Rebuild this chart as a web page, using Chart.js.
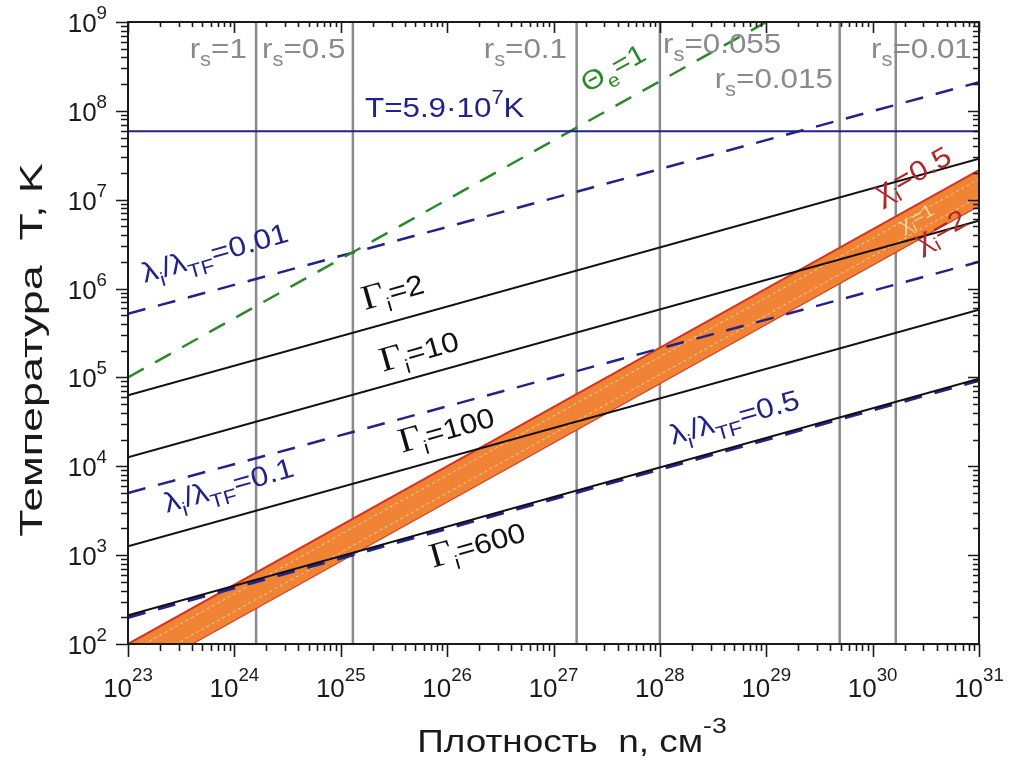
<!DOCTYPE html>
<html lang="ru">
<head>
<meta charset="utf-8">
<title>Температура – плотность</title>
<script src="https://cdn.jsdelivr.net/npm/chart.js@4.4.1/dist/chart.umd.min.js"></script>
<style>
    html, body { margin: 0; padding: 0; background: #fff; }
    #plasmaChart { display: block; }
</style>
</head>
<body>
<canvas id="plasmaChart" width="1012" height="767"></canvas>
<script>
/**
 * Data (log-log, n in cm^-3, T in K)
 */
const densityEnds = [1e23, 1e31];
const xTickPowers = [23, 24, 25, 26, 27, 28, 29, 30, 31];
const yTickPowers = [2, 3, 4, 5, 6, 7, 8, 9];

const rsValues = ['1', '0.5', '0.1', '0.055', '0.015', '0.01'];
const rsDensity = [1.6e24, 1.3e25, 1.65e27, 1e28, 4.9e29, 1.65e30];

const tempLine = 5.9e7;

const gammaValues = ['2', '10', '100', '600'];
const gammaTempStart = [6.3e4, 1.26e4, 1.26e3, 2.1e2];
const gammaTempEnd = [2.9e7, 5.8e6, 5.8e5, 9.7e4];

const lambdaValues = ['0.01', '0.1', '0.5'];
const lambdaTempStart = [5.2e5, 5e3, 2e2];
const lambdaTempEnd = [2.1e8, 2e6, 9.3e4];

const thetaDensity = [1e23, 1e29];
const thetaTemp = [1e5, 1e9];

const chiValues = ['0.5', '1', '2'];
const chiTempStart = [100, 63, 40];
const chiTempEnd = [2.15e7, 1.36e7, 8.6e6];
const chiMidStart = [79, 50];
const chiMidEnd = [1.71e7, 1.08e7];

/**
 * Styles
 */
const SANS = '"Liberation Sans", Arial, sans-serif';
const SERIF = '"Liberation Serif", "Times New Roman", serif';
const NAVY = '#22228a';
const GRAY = '#8a8a8a';
const GREEN = '#2a8a2a';
const CHI_RED = '#b3262a';
const BAND = 'rgb(241, 131, 52)';

/**
 * Text placed on the plot (position in data coordinates)
 */
const annotations = [
    { n: 1.31e24, T: 3.94e8, align: 'right', size: 28, color: GRAY, parts: rsParts(rsValues[0]) },
    { n: 1.82e24, T: 3.94e8, align: 'left', size: 28, color: GRAY, parts: rsParts(rsValues[1]) },
    { n: 1.34e27, T: 3.94e8, align: 'right', size: 28, color: GRAY, parts: rsParts(rsValues[2]) },
    { n: 1.07e28, T: 4.48e8, align: 'left', size: 28, color: GRAY, parts: rsParts(rsValues[3]) },
    { n: 4.23e29, T: 1.81e8, align: 'right', size: 28, color: GRAY, parts: rsParts(rsValues[4]) },
    { n: 8.55e30, T: 3.94e8, align: 'right', size: 28, color: GRAY, parts: rsParts(rsValues[5]) },
    { n: 1.69e25, T: 8.53e7, size: 28, color: NAVY,
      parts: [{ t: 'T=5.9·10' }, { t: '7', sup: true }, { t: 'K' }] },
    { n: 2.06e27, T: 1.59e8, size: 27, color: GREEN, angle: -29,
      parts: [{ t: 'Θ' }, { t: 'e', sub: true }, { t: '=1' }] },
    { n: 1.69e25, T: 5.75e5, size: 28, color: '#111', angle: -16, parts: gammaParts(gammaValues[0]) },
    { n: 2.5e25, T: 1.16e5, size: 28, color: '#111', angle: -16, parts: gammaParts(gammaValues[1]) },
    { n: 3.76e25, T: 1.42e4, size: 28, color: '#111', angle: -16, parts: gammaParts(gammaValues[2]) },
    { n: 7.36e25, T: 721, size: 28, color: '#111', angle: -16, parts: gammaParts(gammaValues[3]) },
    { n: 1.44e23, T: 1.16e6, size: 28, color: NAVY, angle: -16, parts: lambdaParts(lambdaValues[0]) },
    { n: 2.33e23, T: 3.0e3, size: 28, color: NAVY, angle: -16, parts: lambdaParts(lambdaValues[1]) },
    { n: 1.32e28, T: 1.75e4, size: 28, color: NAVY, angle: -16, parts: lambdaParts(lambdaValues[2]) },
    { n: 1.17e30, T: 9.2e6, size: 28, color: CHI_RED, angle: -29, parts: chiParts(chiValues[0]) },
    { n: 1.92e30, T: 4.35e6, size: 18, color: '#f3d9a8', angle: -29, parts: chiParts(chiValues[1]) },
    { n: 2.78e30, T: 2.59e6, size: 27, color: CHI_RED, angle: -29, parts: chiParts(chiValues[2]) }
];

function rsParts(v) {
    return [{ t: 'r' }, { t: 's', sub: true }, { t: '=' + v }];
}

function gammaParts(v) {
    return [{ t: 'Γ', serif: true, scale: 1.25 }, { t: 'i', sub: true }, { t: '=' + v }];
}

function lambdaParts(v) {
    return [{ t: 'λ' }, { t: 'i', sub: true }, { t: '/λ' }, { t: 'TF', sub: true }, { t: '=' + v }];
}

function chiParts(v) {
    return [{ t: 'χ', serif: true, scale: 1.25 }, { t: 'i', sub: true }, { t: '=' + v }];
}

/**
 * Draw a run of text with sub/superscripts, optionally rotated
 */
function drawRichText(ctx, x, y, parts, opts) {
    const size = opts.size;
    ctx.save();
    ctx.translate(x, y);
    ctx.rotate((opts.angle || 0) * Math.PI / 180);
    ctx.scale(opts.hscale || 1, 1);
    ctx.fillStyle = opts.color;
    ctx.textBaseline = opts.baseline || 'alphabetic';
    ctx.textAlign = 'left';

    const runs = parts.map(p => {
        const s = (p.sub || p.sup) ? size * (opts.smallScale || 0.7) : size * (p.scale || 1);
        const font = s + 'px ' + (p.serif ? SERIF : SANS);
        ctx.font = font;
        let dy = 0;
        if (p.sub) dy = size * 0.3;
        if (p.sup) dy = -size * (opts.supShift || 0.45);
        return { text: p.t, font: font, w: ctx.measureText(p.t).width, dy: dy };
    });
    const total = runs.reduce((a, r) => a + r.w, 0);
    let cx = 0;
    if (opts.align === 'right') cx = -total;
    if (opts.align === 'center') cx = -total / 2;

    runs.forEach(r => {
        ctx.font = r.font;
        ctx.fillText(r.text, cx, r.dy);
        cx += r.w;
    });
    ctx.restore();
}

/**
 * Helpers for two-point lines across the density range
 */
function lineData(start, end) {
    return [{ x: densityEnds[0], y: start }, { x: densityEnds[1], y: end }];
}

function buildDatasets() {
    const sets = [];

    // r_s = const verticals
    rsDensity.forEach((n, i) => {
        sets.push({
            label: 'rs=' + rsValues[i],
            data: [{ x: n, y: 1e2 }, { x: n, y: 1e9 }],
            borderColor: GRAY,
            borderWidth: 2.5,
            order: 9
        });
    });

    // chi band: upper edge fills down to lower edge
    const upperIndex = sets.length;
    const lowerIndex = upperIndex + 2;
    chiValues.forEach((v, i) => {
        const ds = {
            label: 'chi=' + v,
            data: lineData(chiTempStart[i], chiTempEnd[i]),
            borderColor: i === 1 ? '#8e1c14' : 'rgb(214, 52, 32)',
            borderWidth: i === 1 ? 1.3 : 2,
            order: 8,
            clip: 0
        };
        if (i === 0) {
            ds.fill = { target: lowerIndex, above: BAND, below: BAND };
        }
        sets.push(ds);
    });

    // light dotted lines inside the band
    chiMidStart.forEach((v, i) => {
        sets.push({
            label: 'chi mid ' + i,
            data: lineData(chiMidStart[i], chiMidEnd[i]),
            borderColor: 'rgba(255, 226, 190, 0.85)',
            borderWidth: 1,
            borderDash: [3, 3],
            order: 7,
            clip: 0
        });
    });

    // lambda_i / lambda_TF dashed lines
    lambdaValues.forEach((v, i) => {
        sets.push({
            label: 'lambda=' + v,
            data: lineData(lambdaTempStart[i], lambdaTempEnd[i]),
            borderColor: NAVY,
            borderWidth: i === 2 ? 3.5 : 2.5,
            borderDash: [18, 13],
            order: 6
        });
    });

    // Gamma_i lines
    gammaValues.forEach((v, i) => {
        sets.push({
            label: 'Gamma=' + v,
            data: lineData(gammaTempStart[i], gammaTempEnd[i]),
            borderColor: '#111',
            borderWidth: 2,
            order: 5
        });
    });

    // Theta_e = 1
    sets.push({
        label: 'Theta=1',
        data: [{ x: thetaDensity[0], y: thetaTemp[0] }, { x: thetaDensity[1], y: thetaTemp[1] }],
        borderColor: GREEN,
        borderWidth: 2.5,
        borderDash: [18, 13],
        order: 4
    });

    // T = 5.9e7 K
    sets.push({
        label: 'T line',
        data: lineData(tempLine, tempLine),
        borderColor: NAVY,
        borderWidth: 2,
        order: 3
    });

    return sets;
}

/**
 * Frame, ticks, tick labels, axis titles and annotations
 */
const decorPlugin = {
    id: 'decor',
    afterDraw(chart) {
        const ctx = chart.ctx;
        const area = chart.chartArea;
        const xs = chart.scales.x;
        const ys = chart.scales.y;

        ctx.save();
        ctx.strokeStyle = '#1a1a1a';
        ctx.lineWidth = 1.6;

        // x ticks (outward at bottom, inward at top)
        xTickPowers.forEach((p, k) => {
            for (let m = 1; m <= 9; m++) {
                if (m > 1 && k === xTickPowers.length - 1) break;
                const px = Math.round(xs.getPixelForValue(m * Math.pow(10, p))) + 0.5;
                const len = m === 1 ? 13 : 7;
                ctx.beginPath();
                ctx.moveTo(px, area.bottom);
                ctx.lineTo(px, area.bottom + len);
                ctx.moveTo(px, area.top);
                ctx.lineTo(px, area.top + len - 2);
                ctx.stroke();
            }
        });

        // y ticks (outward at left, inward at right)
        yTickPowers.forEach((p, k) => {
            for (let m = 1; m <= 9; m++) {
                if (m > 1 && k === yTickPowers.length - 1) break;
                const py = Math.round(ys.getPixelForValue(m * Math.pow(10, p))) + 0.5;
                const len = m === 1 ? 12 : 7;
                ctx.beginPath();
                ctx.moveTo(area.left, py);
                ctx.lineTo(area.left - len, py);
                ctx.moveTo(area.right, py);
                ctx.lineTo(area.right - len + 1, py);
                ctx.stroke();
            }
        });

        // frame
        ctx.lineWidth = 2;
        ctx.strokeRect(area.left, area.top, area.right - area.left, area.bottom - area.top);
        ctx.restore();

        // tick labels
        xTickPowers.forEach(p => {
            drawRichText(ctx, xs.getPixelForValue(Math.pow(10, p)), area.bottom + 53,
                [{ t: '10' }, { t: String(p), sup: true }],
                { size: 26, color: '#1a1a1a', align: 'center', smallScale: 0.72, supShift: 0.6 });
        });
        yTickPowers.forEach(p => {
            drawRichText(ctx, area.left - 21, ys.getPixelForValue(Math.pow(10, p)) + 10,
                [{ t: '10' }, { t: String(p), sup: true }],
                { size: 26, color: '#1a1a1a', align: 'right', smallScale: 0.72, supShift: 0.5 });
        });

        // axis titles
        drawRichText(ctx, 42, 350, [{ t: 'Температура  T, K' }],
            { size: 32, color: '#1a1a1a', align: 'center', angle: -90, hscale: 1.4 });
        drawRichText(ctx, 572, 752, [{ t: 'Плотность  n, см' }, { t: '-3', sup: true }],
            { size: 31, color: '#1a1a1a', align: 'center', smallScale: 0.72, supShift: 0.62, hscale: 1.19 });

        // annotations on the plot
        annotations.forEach(a => {
            drawRichText(ctx, xs.getPixelForValue(a.n), ys.getPixelForValue(a.T), a.parts, {
                size: a.size,
                color: a.color,
                align: a.align || 'left',
                angle: a.angle || 0,
                hscale: 1.12
            });
        });
    }
};

/**
 * Initialize chart
 */
function initPlasmaChart() {
    const ctx = document.getElementById('plasmaChart');
    if (!ctx) return;

    new Chart(ctx, {
        type: 'line',
        data: { datasets: buildDatasets() },
        options: {
            responsive: false,
            animation: false,
            events: [],
            layout: { padding: { left: 128, right: 33, top: 22, bottom: 123 } },
            elements: { point: { radius: 0 }, line: { tension: 0, fill: false } },
            plugins: {
                legend: { display: false },
                tooltip: { enabled: false }
            },
            scales: {
                x: {
                    type: 'logarithmic',
                    min: densityEnds[0],
                    max: densityEnds[1],
                    display: false
                },
                y: {
                    type: 'logarithmic',
                    min: 1e2,
                    max: 1e9,
                    display: false
                }
            }
        },
        plugins: [decorPlugin]
    });
}

document.addEventListener('DOMContentLoaded', initPlasmaChart);
</script>
</body>
</html>
